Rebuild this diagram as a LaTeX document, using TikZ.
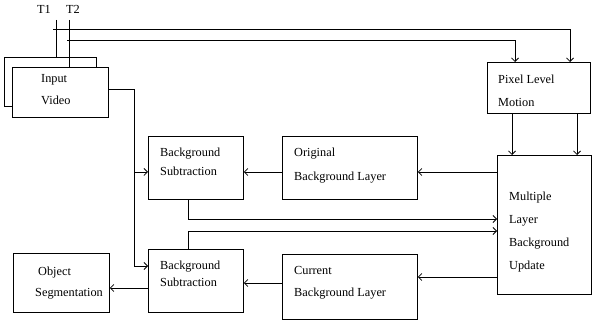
\documentclass[tikz,border=0pt]{standalone}
\usepackage{fontspec}
\setmainfont{Liberation Serif}
\usetikzlibrary{arrows.meta}
\begin{document}
\begin{tikzpicture}[x=1pt,y=-1pt,
  box/.style={draw, line width=0.8pt, inner sep=0pt, anchor=north west, fill=white},
  txt/.style={anchor=base west, inner sep=0pt, font=\fontsize{12.3}{14}\selectfont},
  conn/.style={draw, line width=0.8pt},
  arr/.style={conn, -{Straight Barb[length=3.5pt,width=7pt]}}]
\path[use as bounding box] (0,0) rectangle (592,320);
% boxes
\node[box, minimum width=92pt, minimum height=49pt] (ivback) at (4,57) {};
\node[box, minimum width=96pt, minimum height=50pt] (iv) at (12,67) {};
\node[box, minimum width=103pt, minimum height=51pt] (pix) at (487,62) {};
\node[box, minimum width=95pt, minimum height=63pt] (bs1) at (148,136) {};
\node[box, minimum width=135pt, minimum height=63pt] (obl) at (282,136) {};
\node[box, minimum width=94pt, minimum height=139pt] (mlb) at (497,155) {};
\node[box, minimum width=95pt, minimum height=63pt] (bs2) at (148,249) {};
\node[box, minimum width=135pt, minimum height=65pt] (cbl) at (282,254) {};
\node[box, minimum width=96pt, minimum height=59pt] (obj) at (13,253) {};
% texts
\node[txt] (tT1) at (37,14) {T1};
\node[txt] (tT2) at (66,14) {T2};
\node[txt] (tiv1) at (41,83) {Input};
\node[txt] (tiv2) at (41,105) {Video};
\node[txt] (tpix1) at (498,84) {Pixel Level};
\node[txt] (tpix2) at (498,107) {Motion};
\node[txt] (tbs11) at (160,157) {Background};
\node[txt] (tbs12) at (160,176) {Subtraction};
\node[txt] (tobl1) at (294,157) {Original};
\node[txt] (tobl2) at (294,181) {Background Layer};
\node[txt] (tmlb1) at (509,201) {Multiple};
\node[txt] (tmlb2) at (509,224) {Layer};
\node[txt] (tmlb3) at (509,247) {Background};
\node[txt] (tmlb4) at (509,270) {Update};
\node[txt] (tbs21) at (160,270) {Background};
\node[txt] (tbs22) at (160,287) {Subtraction};
\node[txt] (tcbl1) at (294,275) {Current};
\node[txt] (tcbl2) at (294,297) {Background Layer};
\node[txt] (tobj1) at (38,276) {Object};
\node[txt] (tobj2) at (35,297) {Segmentation};
% input lines
\coordinate (t1top) at (56,20);
\coordinate (t2top) at (69,20);
\coordinate (h1s) at (53,29);
\coordinate (h2s) at (67,40);
\draw[conn] (t1top) -- (t1top |- ivback.north);
\draw[conn] (t2top) -- (t2top |- iv.north);
\draw[arr] (h1s) -| ([xshift=83pt]pix.north west);
\draw[arr] (h2s) -| ([xshift=28pt]pix.north west);
% pixel -> multiple
\draw[arr] ([xshift=25pt]pix.south west) -- ([xshift=25pt]pix.south west |- mlb.north);
\draw[arr] ([xshift=90pt]pix.south west) -- ([xshift=90pt]pix.south west |- mlb.north);
% input video -> subtractions
\coordinate (bend) at (134,89);
\coordinate (bs1in) at ([yshift=-36pt]bs1.north west);
\coordinate (bs2in) at ([yshift=-17pt]bs2.north west);
\draw[arr] (iv.east |- bend) -- (bend) |- (bs2in);
\draw[arr] (bend |- bs1in) -- (bs1in);
% multiple -> original -> bs1
\draw[arr] (mlb.west |- bs1in) -- (obl.east |- bs1in);
\draw[arr] (obl.west |- bs1in) -- (bs1.east |- bs1in);
% subtractions -> multiple
\draw[arr] ([xshift=40pt]bs1.south west) |- ([yshift=-64pt]mlb.north west);
\draw[arr] ([xshift=40pt]bs2.north west) |- ([yshift=-76pt]mlb.north west);
% multiple -> current -> bs2 -> object
\coordinate (m3) at ([yshift=-122pt]mlb.north west);
\draw[arr] (m3) -- (cbl.east |- m3);
\coordinate (c1) at ([yshift=-29pt]cbl.north west);
\draw[arr] (c1) -- (bs2.east |- c1);
\coordinate (b2o) at ([yshift=-39pt]bs2.north west);
\draw[arr] (b2o) -- (obj.east |- b2o);
\end{tikzpicture}
\end{document}
